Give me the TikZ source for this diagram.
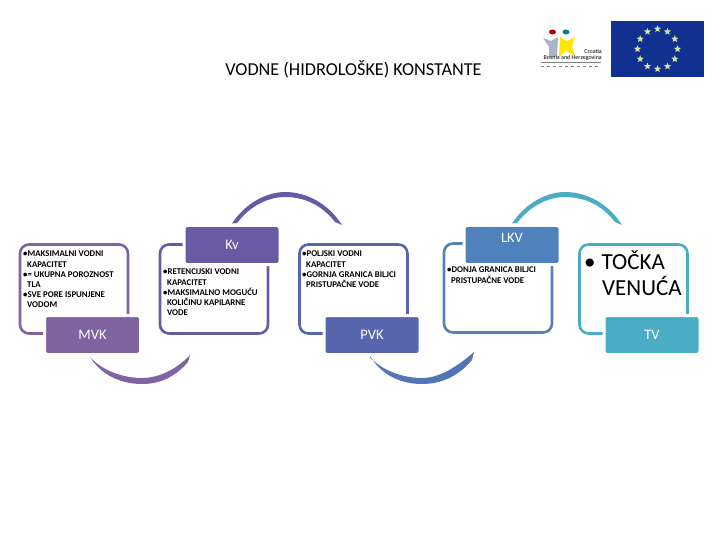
\documentclass[tikz,border=0pt]{standalone}
\usepackage{fontspec}
\setmainfont{Carlito}
\usetikzlibrary{shapes.geometric,calc}
\definecolor{mvkcol}{HTML}{8064A2}
\definecolor{kvcol}{HTML}{6A5AA6}
\definecolor{pvkcol}{HTML}{5766AE}
\definecolor{lkvcol}{HTML}{4F81BD}
\definecolor{tvcol}{HTML}{4BACC6}
\definecolor{flagcol}{HTML}{12308F}
\definecolor{starcol}{HTML}{CFE3A8}
\definecolor{figcol}{HTML}{A8B4CC}
\tikzset{
	framebox/.style={draw,line width=2.6pt,rounded corners=9pt,minimum width=108pt,minimum height=89pt,inner sep=0pt,outer sep=0pt},
	labelbox/.style={draw=white,line width=3pt,rounded corners=3pt,minimum width=96pt,minimum height=39pt,text=white,font=\fontsize{14.5}{14.5}\selectfont,inner sep=0pt,outer sep=0pt},
	smalltext/.style={align=left,anchor=north west,inner sep=0pt,font=\fontsize{8.8}{10.1}\selectfont\bfseries},
	eustar/.style={star,star points=5,star point ratio=2.3,fill=starcol,minimum size=7.5pt,inner sep=0pt},
}
\begin{document}
\begin{tikzpicture}[x=1pt,y=-1pt]
	\useasboundingbox (0,0) rectangle (720,540);
	\node (title) at (353.5,69) {\fontsize{18.2}{18.2}\selectfont VODNE (HIDROLOŠKE) KONSTANTE};
	% frames
	\node [framebox,draw=mvkcol] (mvkframe) at (74,289) {};
	\node [framebox,draw=kvcol] (kvframe) at (214,289) {};
	\node [framebox,draw=pvkcol] (pvkframe) at (353.5,289) {};
	\node [framebox,draw=lkvcol!85!gray] (lkvframe) at (498,288) {};
	\node [framebox,draw=tvcol] (tvframe) at (633.5,289) {};
	% labels
	\node [labelbox,fill=mvkcol] (mvk) at (92.5,335) {MVK};
	\node [labelbox,fill=kvcol] (kv) at (232,245) {Kv};
	\node [labelbox,fill=pvkcol] (pvk) at (372,335) {PVK};
	\node [labelbox,fill=lkvcol,text depth=15pt] (lkv) at (512,245) {LKV};
	\node [labelbox,fill=tvcol] (tv) at (652,335) {TV};
	% texts
	\node [smalltext] (mvktext) at (23,251) {•MAKSIMALNI VODNI\\\hspace*{4pt}KAPACITET\\•= UKUPNA POROZNOST\\\hspace*{4pt}TLA\\•SVE PORE ISPUNJENE\\\hspace*{4pt}VODOM};
	\node [smalltext] (kvtext) at (163,269) {•RETENCIJSKI VODNI\\\hspace*{4pt}KAPACITET\\•MAKSIMALNO MOGUĆU\\\hspace*{4pt}KOLIČINU KAPILARNE\\\hspace*{4pt}VODE};
	\node [smalltext] (pvktext) at (302,251) {•POLJSKI VODNI\\\hspace*{4pt}KAPACITET\\•GORNJA GRANICA BILJCI\\\hspace*{4pt}PRISTUPAČNE VODE};
	\node [smalltext] (lkvtext) at (447,267) {•DONJA GRANICA BILJCI\\\hspace*{4pt}PRISTUPAČNE VODE};
	\node [align=left,anchor=north west,inner sep=0pt,font=\fontsize{23}{26}\selectfont] (tvtext) at (584,250) {•\hspace{6pt}TOČKA\\\hspace*{18pt}VENUĆA};
	% arcs
	\coordinate (mvkend) at (190,355);
	\coordinate (kvend) at (342,225);
	\coordinate (pvkend) at (474,352);
	\coordinate (lkvend) at (622,225);
	\fill [mvkcol] (mvk.south)+(-2,3) .. controls (104,372) and (125,378) .. (142,378) .. controls (160,378) and (178,368) .. (mvkend) -- (188,362) .. controls (175,377) and (160,384) .. (142,384) .. controls (122,384) and (102,376) .. (90,357) -- cycle;
	\fill [kvcol] (kv.north)+(0,-2) .. controls (246,202) and (268,192) .. (285,192) .. controls (306,192) and (328,203) .. (kvend) -- (335,222) .. controls (322,205) and (304,197) .. (285,197) .. controls (268,197) and (250,206) .. (237,223) -- cycle;
	\fill [pvkcol!50!lkvcol] (pvk.south)+(-2,3) .. controls (384,372) and (405,378) .. (422,378) .. controls (440,378) and (458,366) .. (pvkend) -- (472,360) .. controls (458,377) and (440,384) .. (422,384) .. controls (402,384) and (382,376) .. (370,356) -- cycle;
	\fill [tvcol] (lkv.north)+(0,-2) .. controls (526,202) and (548,192) .. (565,192) .. controls (586,192) and (608,203) .. (lkvend) -- (615,222) .. controls (602,205) and (584,197) .. (565,197) .. controls (548,197) and (530,206) .. (517,223) -- cycle;
	% flag
	\node [fill=flagcol,minimum width=93pt,minimum height=56pt,inner sep=0pt] (flag) at (657.5,49) {};
	\foreach \i in {1,...,12}
		\node [eustar] (star\i) at ($(flag.center)+(\i*30:20)$) {};
	% logo
	\fill [red!70!black] (552.5,32) ellipse (3.5pt and 2.5pt);
	\fill [teal] (566,32) ellipse (3.5pt and 2.5pt);
	\fill [figcol] (543,38) -- (551,41) -- (558,37) -- (557,57) -- (549,57) -- (549,47) -- cycle;
	\fill [yellow!90!orange] (560,37) -- (567,41) -- (575,37) -- (572,46) -- (575,56) -- (566,51) -- (559,57) -- cycle;
	\node [anchor=east,inner sep=0pt,font=\fontsize{6}{6}\selectfont] (croatia) at (602,51) {Croatia};
	\node [anchor=east,inner sep=0pt,font=\fontsize{6}{6}\selectfont] (bosnia) at (602,58) {Bosnia and Herzegovina};
	\draw [gray] (541,62.5) -- (601,62.5);
	\draw [gray,dashed,line width=1pt] (541,67) -- (601,67);
\end{tikzpicture}
\end{document}
